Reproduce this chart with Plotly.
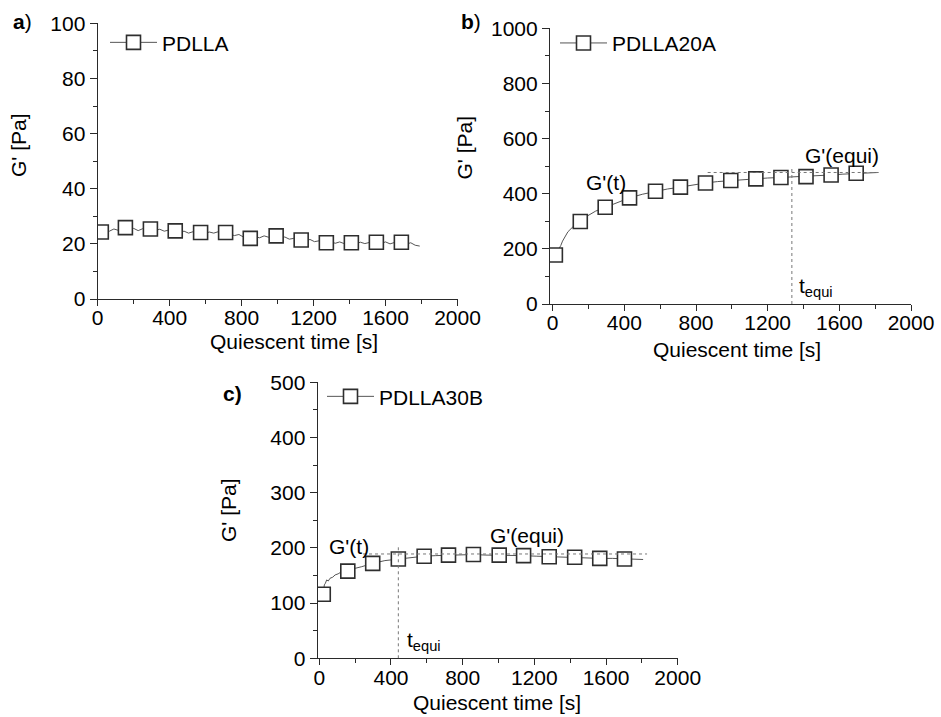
import plotly.graph_objects as go

# ---- storage modulus G' during quiescent annealing ----

# a) PDLLA: full time trace and the sampled symbols
a_time = [10, 20, 45, 65, 90, 115, 135, 154, 180, 200, 225, 250, 270, 293, 320, 345,
          370, 395, 415, 431, 455, 480, 505, 530, 550, 572, 595, 620, 645, 670, 690,
          711, 735, 760, 785, 810, 830, 848, 875, 900, 925, 950, 970, 992, 1015, 1040,
          1065, 1090, 1110, 1131, 1155, 1180, 1205, 1230, 1250, 1271, 1295, 1320, 1345,
          1370, 1390, 1410, 1435, 1460, 1485, 1510, 1530, 1549, 1575, 1600, 1625, 1650,
          1670, 1688, 1715, 1740, 1765, 1790]
a_gp = [24.5, 24.3, 25.2, 24.6, 25.4, 24.9, 25.6, 25.9, 25.1, 25.6, 24.8, 25.5, 25.0,
        25.4, 24.9, 25.3, 24.6, 25.0, 24.5, 24.7, 24.2, 24.6, 23.9, 24.4, 23.8, 24.1,
        23.7, 24.3, 23.9, 24.4, 23.8, 24.1, 23.5, 23.0, 23.4, 22.5, 22.2, 22.0, 22.6,
        22.2, 22.9, 22.4, 23.1, 22.9, 22.1, 22.5, 21.7, 22.0, 21.2, 21.4, 21.0, 21.6,
        20.8, 21.1, 20.5, 20.4, 20.9, 20.2, 20.7, 20.1, 20.6, 20.4, 20.0, 20.6, 20.1,
        20.5, 20.0, 20.6, 20.2, 20.7, 20.0, 20.5, 20.3, 20.6, 19.9, 20.4, 19.5, 19.2]
a_sym_time = [20, 154, 293, 431, 572, 711, 848, 992, 1131, 1271, 1410, 1549, 1688]
a_sym_gp = [24.3, 25.9, 25.4, 24.7, 24.1, 24.1, 22.0, 22.9, 21.4, 20.4, 20.4, 20.6, 20.6]

# b) PDLLA20A
b_time = [15, 25, 35, 45, 55, 67, 85, 113, 135, 154, 190, 240, 293, 350, 429, 500, 574,
          640, 713, 780, 853, 920, 994, 1060, 1134, 1200, 1274, 1340, 1414, 1480, 1554,
          1620, 1694, 1760, 1816]
b_gp = [178, 188, 200, 212, 228, 244, 262, 280, 291, 299, 318, 337, 351, 367, 385, 398,
        409, 417, 424, 432, 439, 444, 448, 451, 454, 457, 459, 461, 462, 465, 468, 471,
        474, 476, 477]
b_sym_time = [15, 154, 293, 429, 574, 713, 853, 994, 1134, 1274, 1414, 1554, 1694]
b_sym_gp = [178, 299, 351, 385, 409, 424, 439, 448, 454, 459, 462, 468, 474]
b_t_equi = 1335
b_g_equi = 477

# c) PDLLA30B
c_time = [22, 28, 34, 41, 50, 60, 75, 88, 105, 125, 159, 200, 237, 298, 366, 441, 510,
          585, 650, 721, 790, 860, 930, 1004, 1070, 1140, 1210, 1283, 1350, 1425, 1495,
          1565, 1635, 1703, 1760, 1807]
c_gp = [116, 133, 136, 142, 140, 145, 147, 151, 153, 157, 158, 163, 166, 172, 177, 180,
        183, 185, 186, 187, 188, 188, 187, 187, 186, 186, 185, 184, 184, 183, 182, 181,
        181, 180, 180, 179]
c_sym_time = [22, 159, 298, 441, 585, 721, 860, 1004, 1140, 1283, 1425, 1565, 1703]
c_sym_gp = [116, 158, 172, 180, 185, 187, 188, 187, 186, 184, 183, 181, 180]
c_t_equi = 441
c_g_equi = 189

names = ["PDLLA", "PDLLA20A", "PDLLA30B"]
panel_tags = ["<b>a</b>)", "<b>b</b>)", "<b>c)</b>"]
x_title = "Quiescent time [s]"
y_title = "G' [Pa]"

W, H = 941, 717
FONT = "Liberation Sans, Arial, sans-serif"
LINE_C = "#555555"
AX_C = "#2a2a2a"


def fx(p):
    return p / W


def fy(p):
    return 1 - p / H


fig = go.Figure()

panels = [
    (a_time, a_gp, a_sym_time, a_sym_gp, "x", "y", "legend"),
    (b_time, b_gp, b_sym_time, b_sym_gp, "x2", "y2", "legend2"),
    (c_time, c_gp, c_sym_time, c_sym_gp, "x3", "y3", "legend3"),
]
sym = dict(symbol="square", size=14, color="white", line=dict(color="#2e2e2e", width=1.6))
for (t, g, st, sg, xa, ya, lg), name in zip(panels, names):
    fig.add_trace(go.Scatter(x=t, y=g, mode="lines", xaxis=xa, yaxis=ya,
                             line=dict(color=LINE_C, width=1), showlegend=False,
                             hoverinfo="skip"))
    fig.add_trace(go.Scatter(x=st, y=sg, mode="markers", xaxis=xa, yaxis=ya,
                             marker=sym, showlegend=False))
    # legend sample: line through an open square
    fig.add_trace(go.Scatter(x=[None], y=[None], mode="lines+markers", name=name,
                             xaxis=xa, yaxis=ya, legend=lg,
                             line=dict(color=LINE_C, width=1), marker=sym))

tick_font = dict(family=FONT, size=21, color="black")
common_x = dict(showline=True, linecolor=AX_C, linewidth=1.2, showgrid=False,
                zeroline=False, ticks="outside", ticklen=6, tickwidth=1.2,
                tickcolor=AX_C, tickfont=tick_font, tick0=0, dtick=400,
                automargin=False, ticklabelstandoff=-6,
                minor=dict(ticks="outside", ticklen=4, dtick=200, tickcolor=AX_C,
                           tickwidth=1.2))
common_y = dict(showline=True, linecolor=AX_C, linewidth=1.2, showgrid=False,
                zeroline=False, ticks="outside", ticklen=7, tickwidth=1.2,
                tickcolor=AX_C, tickfont=tick_font, tick0=0, automargin=False)

fig.update_layout(
    template="none",
    width=W, height=H,
    margin=dict(l=0, r=0, t=0, b=0, pad=0, autoexpand=False),
    paper_bgcolor="white", plot_bgcolor="white",
    font=dict(family=FONT, size=21, color="black"),
    xaxis=dict(common_x, domain=[fx(97.7), fx(457.5)], range=[0, 2000], anchor="y"),
    yaxis=dict(common_y, domain=[fy(299), fy(23.3)], range=[0, 100], dtick=20,
               minor=dict(ticks="outside", ticklen=4, dtick=10, tickcolor=AX_C),
               anchor="x"),
    xaxis2=dict(common_x, domain=[fx(550), fx(911)], range=[-15, 2000], anchor="y2"),
    yaxis2=dict(common_y, domain=[fy(304), fy(28.3)], range=[0, 1000], dtick=200,
                minor=dict(ticks="outside", ticklen=4, dtick=100, tickcolor=AX_C),
                anchor="x2"),
    xaxis3=dict(common_x, domain=[fx(317.7), fx(677.7)], range=[-9, 2000], anchor="y3"),
    yaxis3=dict(common_y, domain=[fy(658.3), fy(382.3)], range=[0, 500], dtick=100,
                minor=dict(ticks="outside", ticklen=4, dtick=50, tickcolor=AX_C),
                anchor="x3"),
)

leg_common = dict(xanchor="left", yanchor="middle", bgcolor="rgba(0,0,0,0)",
                  font=dict(family=FONT, size=21, color="black"), itemwidth=47,
                  borderwidth=0)
fig.update_layout(
    legend=dict(leg_common, x=fx(105), y=fy(42.7)),
    legend2=dict(leg_common, x=fx(555), y=fy(43.3)),
    legend3=dict(leg_common, x=fx(322), y=fy(396.7)),
)

# dotted guides marking the equilibrium time and modulus
dot = dict(color="#777777", width=1, dash="dot")
shapes = [
    dict(type="line", xref="x2", yref="y2", x0=b_t_equi, x1=b_t_equi, y0=0, y1=497, line=dot),
    dict(type="line", xref="x2", yref="y2", x0=865, x1=1828, y0=b_g_equi, y1=b_g_equi, line=dot),
    dict(type="line", xref="x3", yref="y3", x0=c_t_equi, x1=c_t_equi, y0=0, y1=203, line=dot),
    dict(type="line", xref="x3", yref="y3", x0=244, x1=1829, y0=c_g_equi, y1=c_g_equi, line=dot),
]
fig.update_layout(shapes=shapes)

ann = []
txt = dict(family=FONT, size=21, color="black")
# panel tags
for tag, (px, py) in zip(panel_tags, [(11, 21), (459, 22), (221, 393)]):
    ann.append(dict(text=tag, x=fx(px), y=fy(py), xref="paper", yref="paper",
                    xanchor="left", yanchor="middle", showarrow=False, font=txt))
# axis titles
for (px, py) in [(294, 341), (737, 349), (497, 702)]:
    ann.append(dict(text=x_title, x=fx(px), y=fy(py), xref="paper", yref="paper",
                    xanchor="center", yanchor="middle", showarrow=False, font=txt))
for (px, py) in [(18, 145), (463.5, 148), (228, 510)]:
    ann.append(dict(text=y_title, x=fx(px), y=fy(py), xref="paper", yref="paper",
                    xanchor="center", yanchor="middle", showarrow=False, font=txt,
                    textangle=-90))
# labels inside panels b and c
ann += [
    dict(text="G'(t)", x=298, y=439, xref="x2", yref="y2", showarrow=False, font=txt),
    dict(text="G'(equi)", x=1615, y=540, xref="x2", yref="y2", showarrow=False, font=txt),
    dict(text="t<sub>equi</sub>", x=1364, y=62, xref="x2", yref="y2", xanchor="left",
         showarrow=False, font=txt),
    dict(text="G'(t)", x=166, y=203, xref="x3", yref="y3", showarrow=False, font=txt),
    dict(text="G'(equi)", x=1159, y=222, xref="x3", yref="y3", showarrow=False, font=txt),
    dict(text="t<sub>equi</sub>", x=478, y=31, xref="x3", yref="y3", xanchor="left",
         showarrow=False, font=txt),
]
fig.update_layout(annotations=ann)

fig.write_html("out.html")
